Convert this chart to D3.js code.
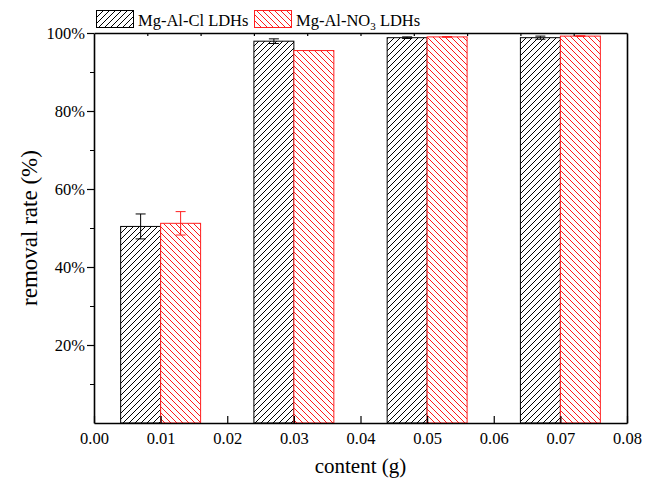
<!DOCTYPE html>
<html>
<head>
<meta charset="utf-8">
<script src="https://cdn.jsdelivr.net/npm/d3@7"></script>
<style>
  html, body { margin: 0; padding: 0; background: #fff; }
  svg { display: block; font-family: "Liberation Serif", "Times New Roman", serif; }
</style>
</head>
<body>
<svg id="chart" width="652" height="483"></svg>
<script>
// Removal rate vs. adsorbent content for two LDH materials
const contents = [0.01, 0.03, 0.05, 0.07];
const clValues = [50.4, 97.9, 98.8, 98.8];
const clErrors = [3.2, 0.6, 0.2, 0.4];
const no3Values = [51.2, 95.5, 99.0, 99.2];
const no3Errors = [3.0, 0.0, 0.1, 0.1];
const xTicks = [0, 0.01, 0.02, 0.03, 0.04, 0.05, 0.06, 0.07, 0.08];
const yTicks = [20, 40, 60, 80, 100];
const yMinorTicks = [10, 30, 50, 70, 90];
const barWidth = 0.006;

const svg = d3.select("#chart");
const margin = { left: 94, right: 25, top: 33, bottom: 60 };
const W = 652, H = 483;
const x = d3.scaleLinear().domain([0, 0.08]).range([margin.left, W - margin.right]);
const y = d3.scaleLinear().domain([0, 100]).range([H - margin.bottom, margin.top]);

const defs = svg.append("defs");
function hatch(id, color, dir) {
  const p = defs.append("pattern")
    .attr("id", id).attr("patternUnits", "userSpaceOnUse")
    .attr("width", 6).attr("height", 6);
  const d = dir === "fwd"
    ? "M0,6 L6,0 M-1.5,1.5 L1.5,-1.5 M4.5,7.5 L7.5,4.5"
    : "M0,0 L6,6 M-1.5,4.5 L1.5,7.5 M4.5,-1.5 L7.5,1.5";
  p.append("rect").attr("width", 6).attr("height", 6).attr("fill", "#fff");
  p.append("path").attr("d", d).attr("stroke", color).attr("stroke-width", 1);
}
hatch("hatchCl", "#000", "fwd");
hatch("hatchNO3", "#ff1a1a", "back");

const series = [
  { name: "cl", values: clValues, errors: clErrors, offset: -barWidth, fill: "url(#hatchCl)", stroke: "#000" },
  { name: "no3", values: no3Values, errors: no3Errors, offset: 0, fill: "url(#hatchNO3)", stroke: "#ff2020" }
];

series.forEach(s => {
  const g = svg.append("g");
  g.selectAll("rect").data(contents).join("rect")
    .attr("x", (c) => x(c + s.offset))
    .attr("width", () => x(barWidth) - x(0))
    .attr("y", (c, i) => y(s.values[i]))
    .attr("height", (c, i) => y(0) - y(s.values[i]))
    .attr("fill", s.fill)
    .attr("stroke", s.stroke)
    .attr("stroke-width", 1);
  // error bars
  const eg = svg.append("g").attr("stroke", s.stroke).attr("stroke-width", 1);
  contents.forEach((c, i) => {
    const e = s.errors[i];
    if (e <= 0) return;
    const cx = x(c + s.offset + barWidth / 2);
    const hi = y(s.values[i] + e), lo = y(s.values[i] - e);
    eg.append("line").attr("x1", cx).attr("x2", cx).attr("y1", hi).attr("y2", lo);
    eg.append("line").attr("x1", cx - 5).attr("x2", cx + 5).attr("y1", hi).attr("y2", hi);
    eg.append("line").attr("x1", cx - 5).attr("x2", cx + 5).attr("y1", lo).attr("y2", lo);
  });
});

// axes
const axBottom = svg.append("g").attr("transform", `translate(0,${y(0)})`)
  .call(d3.axisBottom(x).tickValues(xTicks).tickFormat(d3.format(".2f")).tickSizeInner(-7).tickSizeOuter(0).tickPadding(9));
const axLeft = svg.append("g").attr("transform", `translate(${x(0)},0)`)
  .call(d3.axisLeft(y).tickValues(yTicks).tickFormat(d => d + "%").tickSizeInner(7).tickSizeOuter(0).tickPadding(2));
svg.append("g").attr("transform", `translate(${x(0)},0)`)
  .call(d3.axisLeft(y).tickValues(yMinorTicks).tickFormat("").tickSizeInner(4).tickSizeOuter(0))
  .call(g => g.select(".domain").remove());
const axTop = svg.append("g").attr("transform", `translate(0,${y(100)})`)
  .call(d3.axisTop(x).tickValues(d3.range(1, 10).map(i => i * 0.008)).tickFormat("").tickSizeInner(-3).tickSizeOuter(0));
const axRight = svg.append("g").attr("transform", `translate(${x(0.08)},0)`)
  .call(d3.axisRight(y).tickValues([]).tickSizeOuter(0));

[axBottom, axLeft, axTop, axRight].forEach(a => {
  a.select(".domain").attr("stroke-width", 1.6);
  a.selectAll(".tick line").attr("stroke-width", 1.2);
  a.selectAll("text").attr("font-family", "Liberation Serif").attr("font-size", 16.5).attr("fill", "#000");
});

// axis titles
svg.append("text").attr("x", x(0.04)).attr("y", 473).attr("text-anchor", "middle")
  .attr("font-size", 21).text("content (g)");
svg.append("text").attr("transform", `translate(37,${y(50)}) rotate(-90)`).attr("text-anchor", "middle")
  .attr("font-size", 23).text("removal rate (%)");

// legend
const lg = svg.append("g").attr("font-size", 16.5);
lg.append("rect").attr("x", 96.5).attr("y", 10.5).attr("width", 37).attr("height", 17)
  .attr("fill", "url(#hatchCl)").attr("stroke", "#000");
lg.append("text").attr("x", 138).attr("y", 25.5).text("Mg-Al-Cl LDHs");
lg.append("rect").attr("x", 254.5).attr("y", 10.5).attr("width", 37).attr("height", 17)
  .attr("fill", "url(#hatchNO3)").attr("stroke", "#ff2020");
const t2 = lg.append("text").attr("x", 296).attr("y", 25.5);
t2.append("tspan").text("Mg-Al-NO");
t2.append("tspan").attr("font-size", 11).attr("dy", 4).text("3");
t2.append("tspan").attr("dy", -4).text(" LDHs");
</script>
</body>
</html>
